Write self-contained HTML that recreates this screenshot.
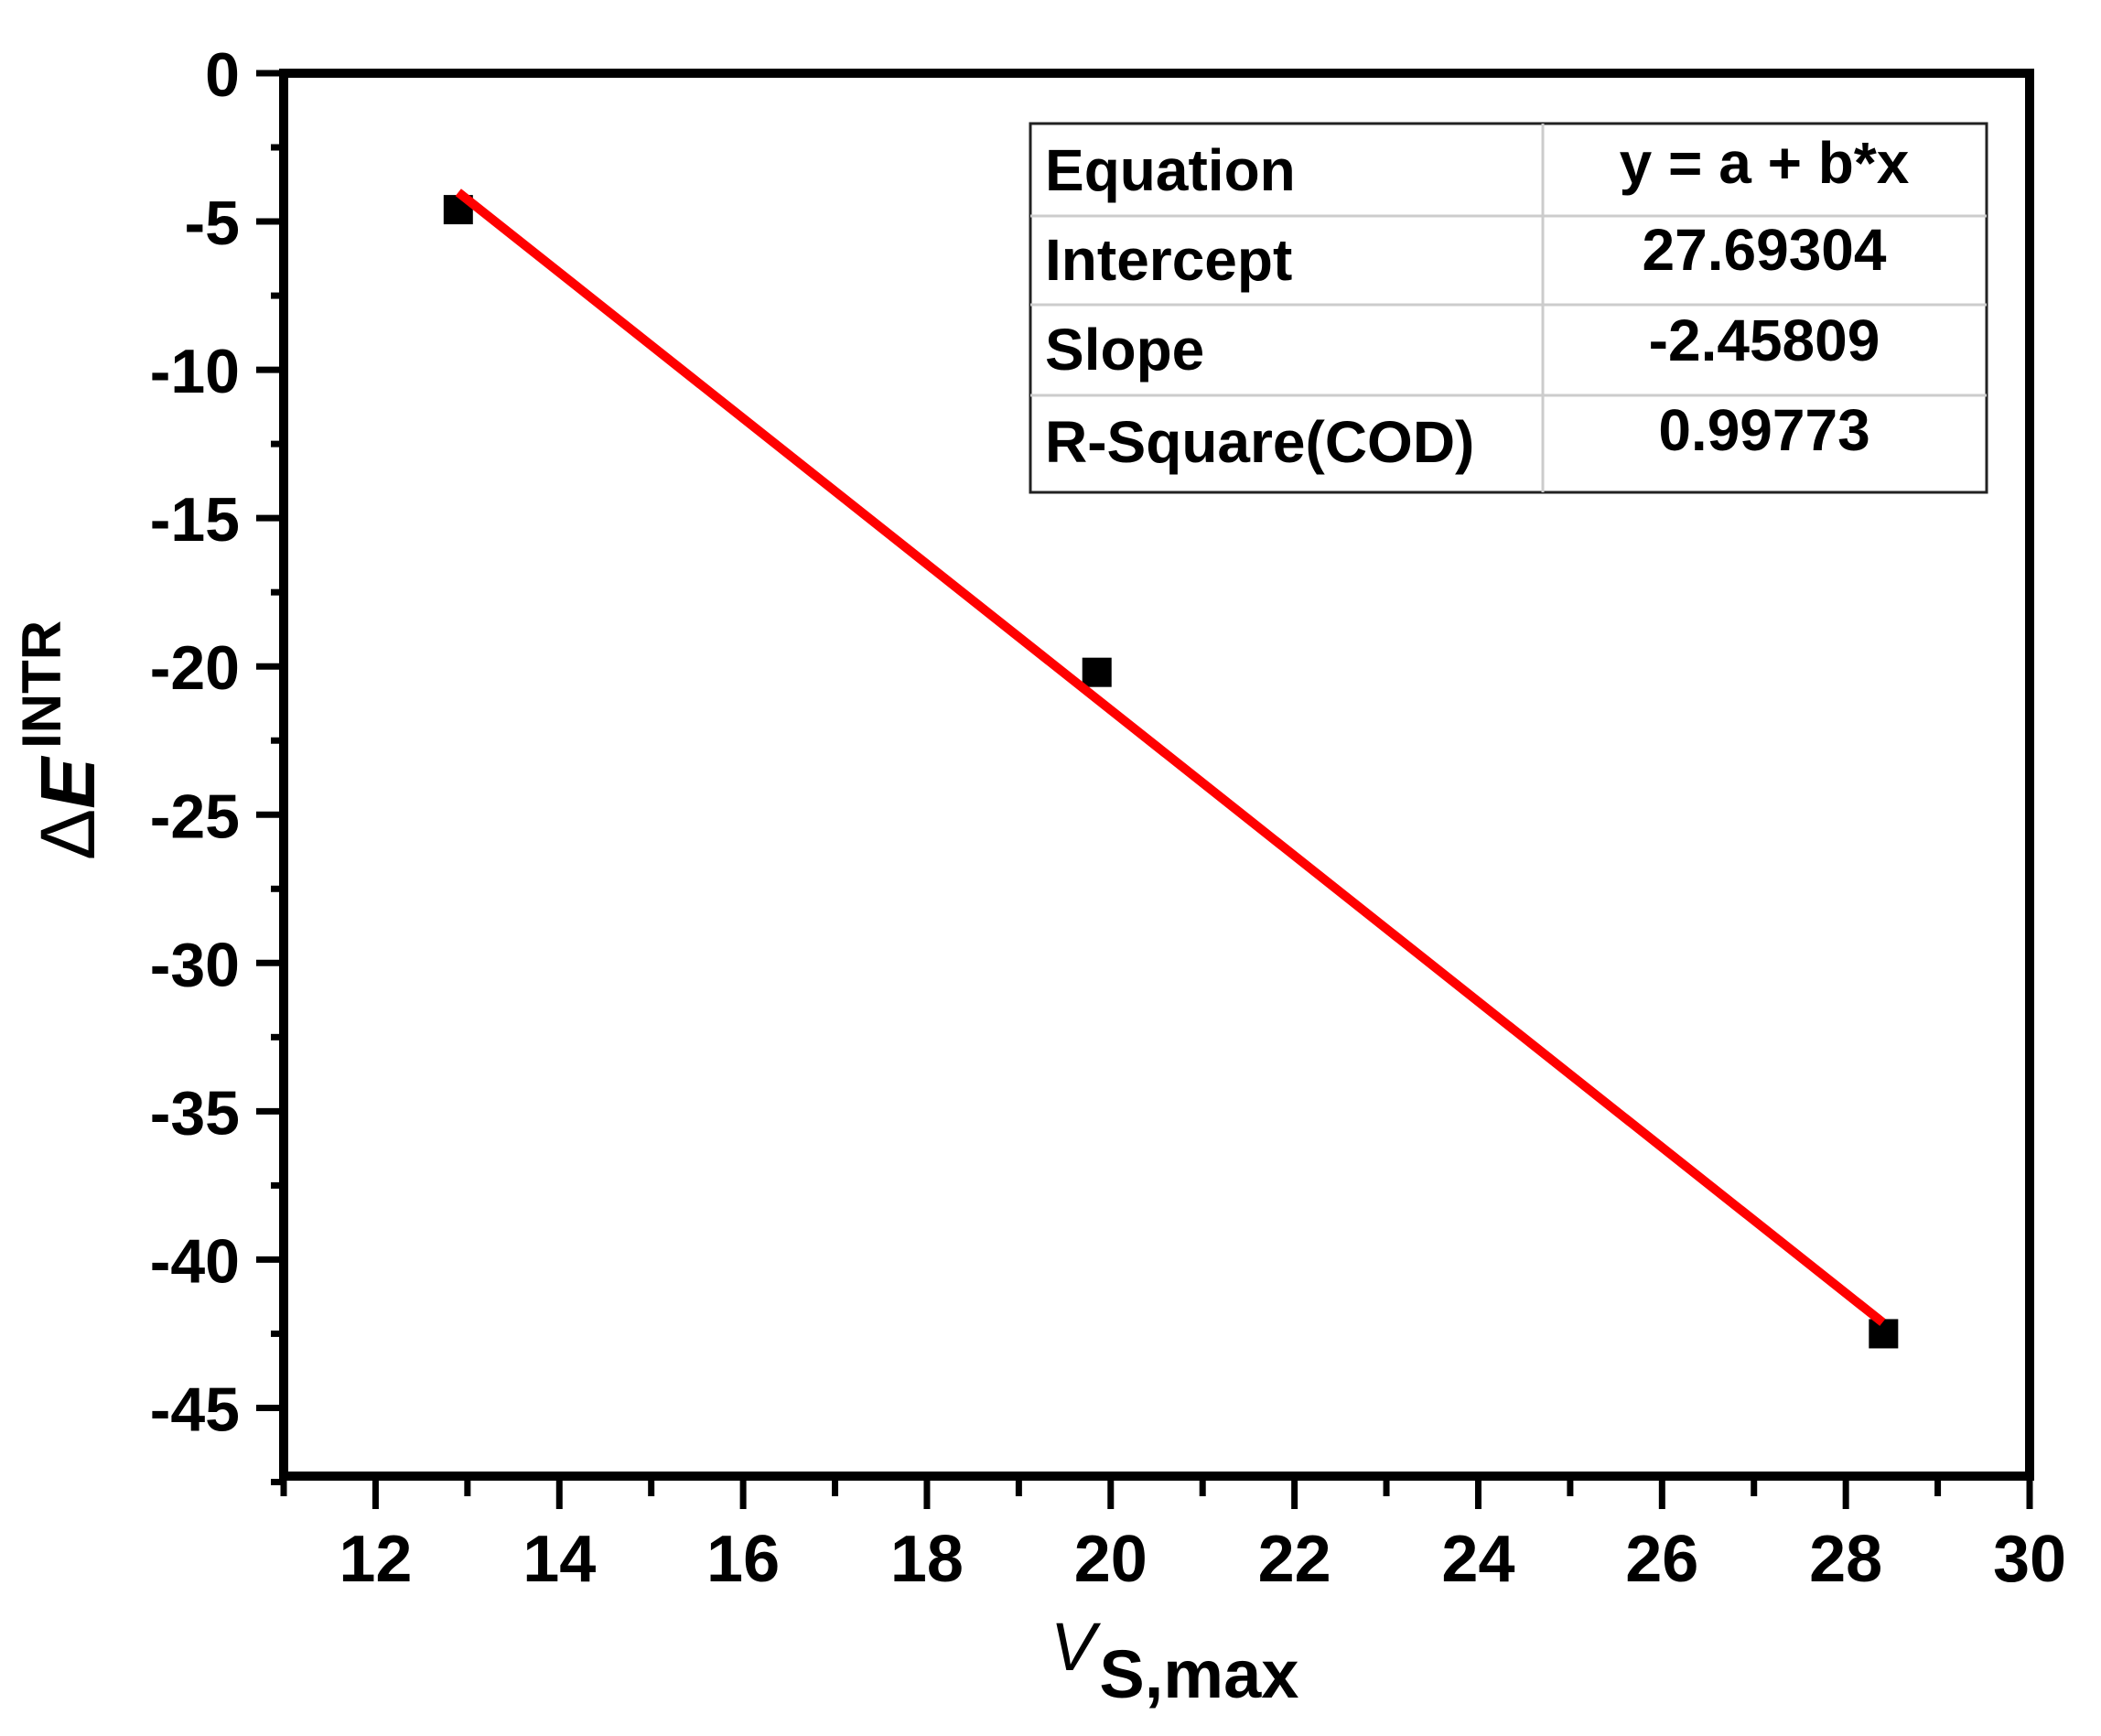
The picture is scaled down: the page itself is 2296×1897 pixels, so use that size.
<!DOCTYPE html>
<html><head><meta charset="utf-8"><style>
html,body{margin:0;padding:0;background:#fff;}
svg{display:block;font-family:"Liberation Sans",Arial,sans-serif;font-weight:bold;}
</style></head><body>
<svg id="chart" width="2296" height="1897" viewBox="0 0 2296 1897" xmlns="http://www.w3.org/2000/svg">
<g id="axes"></g>
<g id="marks"></g>
<g>
  <rect x="1126" y="135" width="1045" height="403" fill="#fff" stroke="#222" stroke-width="3"/>
  <line x1="1686" y1="135" x2="1686" y2="538" stroke="#ccc" stroke-width="3"/>
  <line x1="1126" y1="236" x2="2171" y2="236" stroke="#ccc" stroke-width="3"/>
  <line x1="1126" y1="333" x2="2171" y2="333" stroke="#ccc" stroke-width="3"/>
  <line x1="1126" y1="432" x2="2171" y2="432" stroke="#ccc" stroke-width="3"/>
  <g font-size="64">
    <text x="1142" y="208">Equation</text>
    <text x="1142" y="306">Intercept</text>
    <text x="1142" y="404">Slope</text>
    <text x="1142" y="505">R-Square(COD)</text>
    <text x="1928" y="200" text-anchor="middle">y = a + b*x</text>
    <text x="1928" y="295" text-anchor="middle">27.69304</text>
    <text x="1928" y="394" text-anchor="middle">-2.45809</text>
    <text x="1928" y="492" text-anchor="middle">0.99773</text>
  </g>
</g>
<text transform="translate(103,940) rotate(-90)" font-size="84"><tspan font-weight="normal">Δ</tspan><tspan font-style="italic">E</tspan><tspan font-size="60" dy="-37" dx="10">INTR</tspan></text>
<text x="1148" y="1825" font-size="74"><tspan font-style="italic" font-weight="normal">V</tspan><tspan dy="30" dx="4">S,max</tspan></text>
</svg>
<script>
const xTicks=[12,14,16,18,20,22,24,26,28,30];
const yTicks=[0,-5,-10,-15,-20,-25,-30,-35,-40,-45];
const xData=[12.9,19.85,28.41];
const yData=[-4.6,-20.2,-42.5];
const fitIntercept=27.69304;
const fitSlope=-2.45809;
const fitRange=[12.9,28.4];
const X0=310,X1=2218,Y0=80,Y1=1613;
const xmin=11,xmax=30,ymin=-47.3,ymax=0;
const sx=v=>X0+(v-xmin)/(xmax-xmin)*(X1-X0);
const sy=v=>Y0+(ymax-v)/(ymax-ymin)*(Y1-Y0);
const NS='http://www.w3.org/2000/svg';
function mk(tag,attrs,parent){const e=document.createElementNS(NS,tag);for(const k in attrs)e.setAttribute(k,attrs[k]);parent.appendChild(e);return e;}
const axes=document.getElementById('axes'),marks=document.getElementById('marks');
const frame=mk('rect',{x:X0,y:Y0,width:X1-X0,height:Y1-Y0,fill:'none',stroke:'#000','stroke-width':10},axes);


for(let v=11;v<=30;v++){
  const major=v%2===0;
  const t=mk('line',{x1:sx(v),x2:sx(v),y1:Y1,y2:Y1+(major?36:22),stroke:'#000','stroke-width':7},axes);
  
  
}
xTicks.forEach(v=>{
  const t=mk('text',{x:sx(v),y:1728,'font-size':72,'text-anchor':'middle'},axes);
  t.textContent=v;
  
  
});
for(let v=0;v>=-47.5;v-=2.5){
  const major=Math.abs(v%5)<1e-9;
  const t=mk('line',{x1:X0-(major?30:14),x2:X0,y1:sy(v),y2:sy(v),stroke:'#000','stroke-width':7},axes);
  
  
}
yTicks.forEach(v=>{
  const t=mk('text',{x:262,y:sy(v)+25,'font-size':68,'text-anchor':'end'},axes);
  t.textContent=v;
  
  
});
xData.forEach((x,i)=>{
  const r=mk('rect',{x:sx(x)-16,y:sy(yData[i])-16,width:32,height:32,fill:'#000'},marks);
  
  
});
const fit=mk('line',{x1:sx(fitRange[0]),y1:sy(fitIntercept+fitSlope*fitRange[0]),x2:sx(fitRange[1]),y2:sy(fitIntercept+fitSlope*fitRange[1]),stroke:'#ff0000','stroke-width':10},marks);


</script>
</body></html>
